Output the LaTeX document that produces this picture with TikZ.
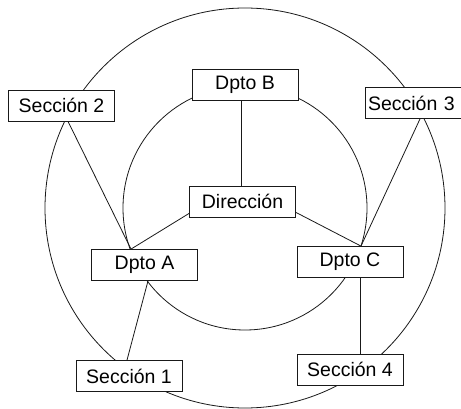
\documentclass[tikz,border=0pt]{standalone}
\usepackage{fontspec}
\setmainfont{Liberation Sans}
\begin{document}
\begin{tikzpicture}[x=1pt,y=-1pt,
  box/.style={draw=black!90, fill=white, minimum width=106pt, minimum height=31pt, inner sep=0pt,
    line width=0.8pt, font=\fontsize{19.5}{21}\selectfont},
  conn/.style={draw=black!90, line width=0.8pt}]
\clip (0,0) rectangle (461,409);
\draw[conn] (245,208) circle[radius=200];
\draw[conn] (245,208) circle[radius=122];
\node[box] (B) at (245,84.5) {Dpto B};
\node[box] (S2) at (61.5,105.5) {Sección 2};
\node[box, text width=100pt, align=left, inner xsep=3pt] (S3) at (418,103) {Sección 3};
\node[box] (Dir) at (242.5,201.5) {Dirección};
\node[box] (A) at (144.5,265) {Dpto A};
\node[box] (C) at (350,262) {Dpto C};
\node[box] (S1) at (129,376) {Sección 1};
\node[box] (S4) at (350,369.5) {Sección 4};
\draw[conn] ([xshift=-4pt]B.south) -- ([xshift=-1.5pt]Dir.north);
\draw[conn] ([yshift=4pt]Dir.south west) -- ([xshift=-13.5pt]A.north);
\draw[conn] ([yshift=5pt]Dir.south east) -- ([xshift=11pt]C.north);
\draw[conn] ([xshift=6.5pt]S2.south) -- ([xshift=-13.5pt]A.north);
\draw[conn] ([xshift=2pt]S3.south) -- ([xshift=11pt]C.north);
\draw[conn] ([xshift=3.5pt]A.south) -- ([xshift=-2pt]S1.north);
\draw[conn] ([xshift=10pt]C.south) -- ([xshift=10pt]S4.north);
\end{tikzpicture}
\end{document}
